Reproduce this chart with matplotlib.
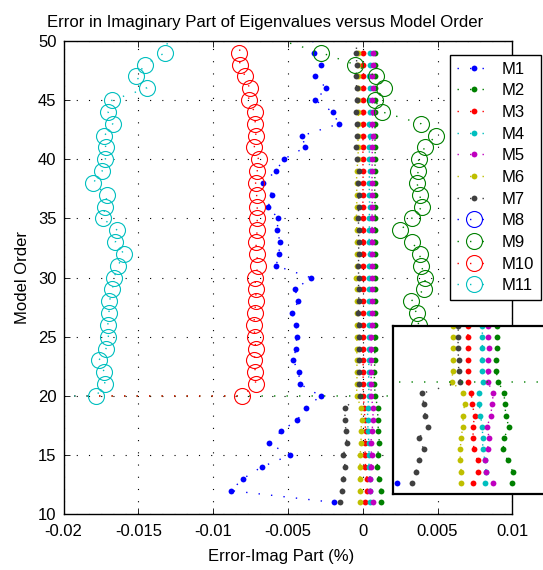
import numpy as np
import matplotlib
matplotlib.use("Agg")
import matplotlib.pyplot as plt

plt.rcParams["font.family"] = ["Liberation Sans", "DejaVu Sans"]

# model orders: M1..M7 from 11 to 49 (plus one point above the axis at 51)
orders_lo = list(range(11, 50)) + [51]
# M8..M11 from 20 to 49; the first entry is an off-axis lead-in point at order 20
orders_hi = [20] + list(range(20, 50)) + [51]

m1 = [-0.00189, -0.00881, -0.00801, -0.00676, -0.00485, -0.00628, -0.00547, -0.00436, -0.00378,
      -0.00282, -0.00418, -0.00429, -0.00463, -0.00447, -0.00441, -0.00445, -0.00471, -0.00431,
      -0.00451, -0.00347, -0.00578, -0.00561, -0.00552, -0.00572, -0.00565, -0.00632, -0.00603,
      -0.00668, -0.00581, -0.00529, -0.00387, -0.00403, -0.00160, -0.00200, -0.00318, -0.00242,
      -0.00318, -0.00280, -0.00327, -0.00340]
m2 = [0.00122, 0.00123, 0.00109, 0.00097, 0.00100, 0.00112, 0.00105, 0.00101, 0.00100,
      0.00084, 0.00078, 0.00078, 0.00081, 0.00081, 0.00081, 0.00083, 0.00081, 0.00084,
      0.00082, 0.00080, 0.00083, 0.00085, 0.00081, 0.00082, 0.00084, 0.00083, 0.00081,
      0.00080, 0.00083, 0.00082, 0.00084, 0.00081, 0.00083, 0.00082, 0.00080, 0.00083,
      0.00081, 0.00084, 0.00082, 0.00082]
m3 = [0.00015, 0.00030, 0.00028, 0.00018, 0.00016, 0.00016, 0.00020, 0.00014, 0.00011,
      0.00003, 0.00003, 0.00003, 0.00003, 0.00002, 0.00002, 0.00002, 0.00003, 0.00001,
      0.00002, 0.00003, 0.00002, 0.00001, 0.00002, 0.00003, 0.00002, 0.00001, 0.00002,
      0.00002, 0.00003, 0.00001, 0.00002, 0.00002, 0.00001, 0.00003, 0.00002, 0.00001,
      0.00002, 0.00003, 0.00002, 0.00002]
m4 = [0.00049, 0.00051, 0.00048, 0.00042, 0.00042, 0.00041, 0.00036, 0.00033, 0.00033,
      0.00042, 0.00040, 0.00040, 0.00041, 0.00041, 0.00041, 0.00043, 0.00044, 0.00042,
      0.00045, 0.00043, 0.00044, 0.00046, 0.00043, 0.00045, 0.00044, 0.00046, 0.00045,
      0.00043, 0.00046, 0.00044, 0.00045, 0.00047, 0.00045, 0.00046, 0.00044, 0.00046,
      0.00045, 0.00047, 0.00046, 0.00046]
m5 = [0.00071, 0.00052, 0.00049, 0.00055, 0.00059, 0.00054, 0.00063, 0.00068, 0.00070,
      0.00056, 0.00056, 0.00057, 0.00058, 0.00057, 0.00056, 0.00060, 0.00062, 0.00059,
      0.00063, 0.00061, 0.00062, 0.00064, 0.00061, 0.00063, 0.00062, 0.00064, 0.00063,
      0.00061, 0.00064, 0.00062, 0.00065, 0.00066, 0.00064, 0.00066, 0.00065, 0.00067,
      0.00065, 0.00066, 0.00067, 0.00066]
m6 = [-0.00017, -0.00016, -0.00019, -0.00018, -0.00017, -0.00011, -0.00011, -0.00007, -0.00010,
      -0.00041, -0.00039, -0.00038, -0.00039, -0.00039, -0.00039, -0.00040, -0.00041, -0.00039,
      -0.00040, -0.00042, -0.00040, -0.00039, -0.00041, -0.00040, -0.00042, -0.00040, -0.00039,
      -0.00041, -0.00040, -0.00031, -0.00030, -0.00032, -0.00030, -0.00029, -0.00031, -0.00030,
      -0.00032, -0.00030, -0.00031, -0.00030]
m7 = [-0.00149, -0.00138, -0.00130, -0.00117, -0.00130, -0.00106, -0.00113, -0.00117, -0.00121,
      -0.00018, -0.00023, -0.00023, -0.00025, -0.00024, -0.00024, -0.00027, -0.00029, -0.00026,
      -0.00028, -0.00027, -0.00029, -0.00026, -0.00028, -0.00027, -0.00029, -0.00028, -0.00026,
      -0.00029, -0.00027, -0.00040, -0.00042, -0.00041, -0.00039, -0.00042, -0.00040, -0.00041,
      -0.00043, -0.00040, -0.00042, -0.00041]
m8 = [np.nan] * 32  # off scale everywhere
m9 = [-0.03, 0.012, 0.0035, 0.0042, 0.0038, 0.0040, 0.0037, 0.00374, 0.00360, 0.00323, 0.00410,
      0.00419, 0.00392, 0.00381, 0.00332, 0.00252, 0.00327, 0.00397, 0.00381, 0.00363, 0.00370,
      0.00374, 0.00414, 0.00490, 0.00392, 0.00132, 0.00080, 0.00140, 0.00089, -0.00049, -0.00276,
      -0.00790]
m10 = [-0.03, -0.00805, -0.00716, -0.00718, -0.00725, -0.00716, -0.00721, -0.00727, -0.00723,
       -0.00714, -0.00714, -0.00721, -0.00698, -0.00709, -0.00714, -0.00705, -0.00705, -0.00705,
       -0.00709, -0.00716, -0.00705, -0.00696, -0.00725, -0.00714, -0.00718, -0.00723, -0.00763,
       -0.00756, -0.00785, -0.00821, -0.00825, -0.00800]
m11 = [-0.03, -0.01782, -0.01724, -0.01726, -0.01764, -0.01716, -0.01700, -0.01704, -0.01696,
       -0.01693, -0.01673, -0.01662, -0.01636, -0.01596, -0.01653, -0.01640, -0.01736, -0.01722,
       -0.01709, -0.01802, -0.01742, -0.01720, -0.01718, -0.01726, -0.01671, -0.01702, -0.01676,
       -0.01444, -0.01515, -0.01455, -0.01324, -0.01280]

labels = ["M1", "M2", "M3", "M4", "M5", "M6", "M7", "M8", "M9", "M10", "M11"]
colors = [(0, 0, 1), (0, 0.5, 0), (1, 0, 0), (0, 0.75, 0.75), (0.75, 0, 0.75),
          (0.75, 0.75, 0), (0.25, 0.25, 0.25), (0, 0, 1), (0, 0.5, 0), (1, 0, 0), (0, 0.75, 0.75)]
xticks = [-0.02, -0.015, -0.01, -0.005, 0, 0.005, 0.01]
xticklabels = ["-0.02", "-0.015", "-0.01", "-0.005", "0", "0.005", "0.01"]
yticks = [10, 15, 20, 25, 30, 35, 40, 45, 50]

series = [(m1, orders_lo), (m2, orders_lo), (m3, orders_lo), (m4, orders_lo), (m5, orders_lo),
          (m6, orders_lo), (m7, orders_lo), (m8, orders_hi), (m9, orders_hi), (m10, orders_hi),
          (m11, orders_hi)]

DOTS = (0, (1, 8))
FS = 12

fig = plt.figure(figsize=(5.43, 5.70), dpi=100)
W, H = 543, 570
ax = fig.add_axes([63.5 / W, 1 - 514.3 / H, 448.8 / W, 473.3 / H])


def draw(a):
    out = []
    for i, (vals, ords) in enumerate(series):
        if i < 7:
            kw = dict(marker="o", ms=4.2, mew=0)
        else:
            kw = dict(marker="o", ms=11.5, mfc="none", mew=0.8)
        ln, = a.plot(vals, ords, color=colors[i], ls=DOTS, lw=1.0, **kw)
        out.append(ln)
    return out


handles = draw(ax)
ax.set_xlim(-0.02, 0.01)
ax.set_ylim(10, 50)
ax.set_xticks(xticks)
ax.set_xticklabels(xticklabels)
ax.set_yticks(yticks)
ax.set_yticklabels([str(t) for t in yticks])
ax.grid(True, color="black", ls=(0, (1, 10)), lw=0.8)
ax.tick_params(direction="in", length=4, width=0.6, top=True, right=True, labelsize=FS)
ax.tick_params(axis="x", pad=7)
ax.tick_params(axis="y", pad=5)
for s in ax.spines.values():
    s.set_linewidth(1.0)

ax.set_xlabel("Error-Imag Part (%)", fontsize=FS)
ax.xaxis.set_label_coords(0.4846, -0.074)
ax.set_ylabel("Model Order", fontsize=FS)
ax.yaxis.set_label_coords(-0.075, 0.5)

fig.text(265 / W, 1 - 27 / H, "Error in Imaginary Part of Eigenvalues versus Model Order",
         ha="center", va="baseline", fontsize=12.1)

leg = ax.legend(handles, labels, loc="upper left", bbox_to_anchor=(450 / W, 1 - 55 / H),
                bbox_transform=fig.transFigure, fancybox=False, edgecolor="black",
                framealpha=1, borderaxespad=0, borderpad=0.4, handlelength=2.1,
                handletextpad=0.6, labelspacing=0.4, numpoints=1, fontsize=FS)
leg.get_frame().set_linewidth(1.0)

# zoomed view of the low orders
axi = fig.add_axes([393 / W, 1 - 494 / H, 152 / W, 168 / H])
draw(axi)
axi.set_xlim(-0.002, 0.0021)
axi.set_ylim(10, 25)
axi.set_xticks([])
axi.set_yticks([])
for s in axi.spines.values():
    s.set_linewidth(1.6)

fig.savefig("out.png", dpi=100)
